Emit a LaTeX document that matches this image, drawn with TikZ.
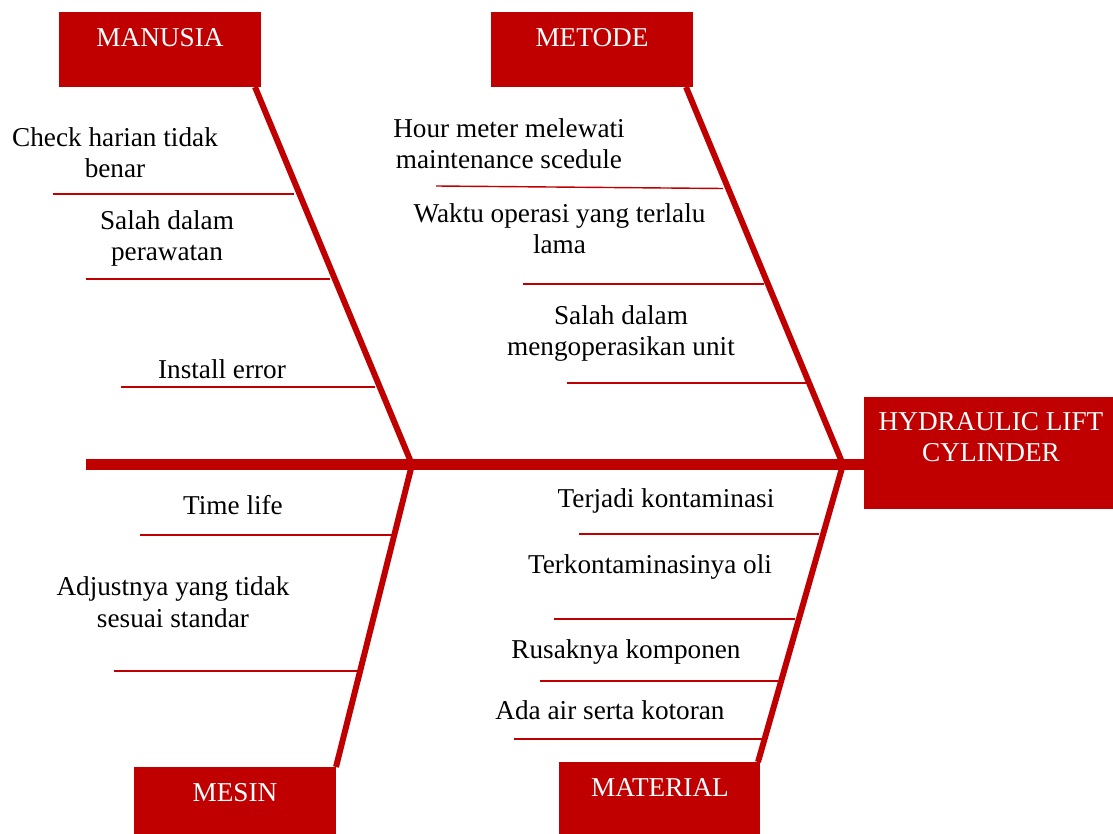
\documentclass[tikz,border=0pt]{standalone}
\usepackage{fontspec}
\setmainfont{Liberation Serif}
\definecolor{fbred}{HTML}{C00000}
\tikzset{
  catbox/.style={fill=fbred, draw=none, inner sep=0pt},
  cattext/.style={text=white, inner sep=0pt, anchor=base, align=center, font=\fontsize{15.5}{17.7}\selectfont},
  causetext/.style={text=black, inner sep=0pt, anchor=base, align=center, font=\fontsize{15.5}{17.7}\selectfont},
  spine/.style={draw=fbred, line width=6.8pt},
  bone/.style={draw=fbred, line width=3.4pt},
  twig/.style={draw=fbred, line width=0.8pt}
}
\begin{document}
\begin{tikzpicture}[x=0.02cm, y=-0.02cm]
\useasboundingbox (0,0) rectangle (1113,834);
% category boxes
\node[catbox, minimum width=202*0.02cm, minimum height=75*0.02cm] (man) at (160,49.5) {};
\node[catbox, minimum width=202*0.02cm, minimum height=75*0.02cm] (met) at (592,49.5) {};
\node[catbox, minimum width=249*0.02cm, minimum height=112*0.02cm] (hyd) at (988.5,453) {};
\node[catbox, minimum width=202*0.02cm, minimum height=67*0.02cm] (mes) at (235,800.5) {};
\node[catbox, minimum width=201*0.02cm, minimum height=72*0.02cm] (mat) at (659.5,798) {};
\node[cattext] (manT) at (160,47) {MANUSIA};
\node[cattext] (metT) at (592,47) {METODE};
\node[cattext] (hydT) at (991,462) {HYDRAULIC LIFT\\CYLINDER};
\node[cattext] (mesT) at (235,801) {MESIN};
\node[cattext] (matT) at (660,796) {MATERIAL};
% spine and junctions
\coordinate (tail) at (86,464.5);
\coordinate (j1) at (412,464.5);
\coordinate (j2) at (843,464.5);
\coordinate (manB) at (255,87);
\coordinate (metB) at (686,87);
\coordinate (mesB) at (336,767);
\coordinate (matB) at (758,762);
\draw[spine] (tail) -- (tail -| hyd.west);
\draw[bone] (manB) -- (j1);
\draw[bone] (metB) -- (j2);
\draw[bone] (j1) -- (mesB);
\draw[bone] (j2) -- (matB);
% MANUSIA causes
\coordinate (m1a) at (53,194);  \coordinate (m1b) at (294,194);
\coordinate (m2a) at (86,279);  \coordinate (m2b) at (330,279);
\coordinate (m3a) at (121,387); \coordinate (m3b) at (375,387);
\draw[twig] (m1a) -- (m1b);
\draw[twig] (m2a) -- (m2b);
\draw[twig] (m3a) -- (m3b);
\node[causetext] (c1) at (115,178) {Check harian tidak\\benar};
\node[causetext] (c2) at (167,261) {Salah dalam\\perawatan};
\node[causetext] (c3) at (222,379) {Install error};
% METODE causes
\coordinate (t1a) at (436,186);  \coordinate (t1b) at (723,188.5);
\coordinate (t2a) at (523,284);  \coordinate (t2b) at (764,284);
\coordinate (t3a) at (567,383);  \coordinate (t3b) at (808,383);
\draw[twig] (t1a) -- (t1b);
\draw[twig] (t2a) -- (t2b);
\draw[twig] (t3a) -- (t3b);
\node[causetext] (c4) at (509,169) {Hour meter melewati\\maintenance scedule};
\node[causetext] (c5) at (559.5,254) {Waktu operasi yang terlalu\\lama};
\node[causetext] (c6) at (621,356) {Salah dalam\\mengoperasikan unit};
% MESIN causes
\coordinate (s1a) at (140,535); \coordinate (s1b) at (395,535);
\coordinate (s2a) at (114,671); \coordinate (s2b) at (360,671);
\draw[twig] (s1a) -- (s1b);
\draw[twig] (s2a) -- (s2b);
\node[causetext] (c7) at (233,515) {Time life};
\node[causetext] (c8) at (173,627) {Adjustnya yang tidak\\sesuai standar};
% MATERIAL causes
\coordinate (r1a) at (579,534); \coordinate (r1b) at (819,534);
\coordinate (r2a) at (554,619); \coordinate (r2b) at (795,619);
\coordinate (r3a) at (540,681); \coordinate (r3b) at (778,681);
\coordinate (r4a) at (514,739); \coordinate (r4b) at (762,739);
\draw[twig] (r1a) -- (r1b);
\draw[twig] (r2a) -- (r2b);
\draw[twig] (r3a) -- (r3b);
\draw[twig] (r4a) -- (r4b);
\node[causetext] (c9) at (666,508) {Terjadi kontaminasi};
\node[causetext] (c10) at (650,574) {Terkontaminasinya oli};
\node[causetext] (c11) at (626,658) {Rusaknya komponen};
\node[causetext] (c12) at (610,719) {Ada air serta kotoran};
\end{tikzpicture}
\end{document}
